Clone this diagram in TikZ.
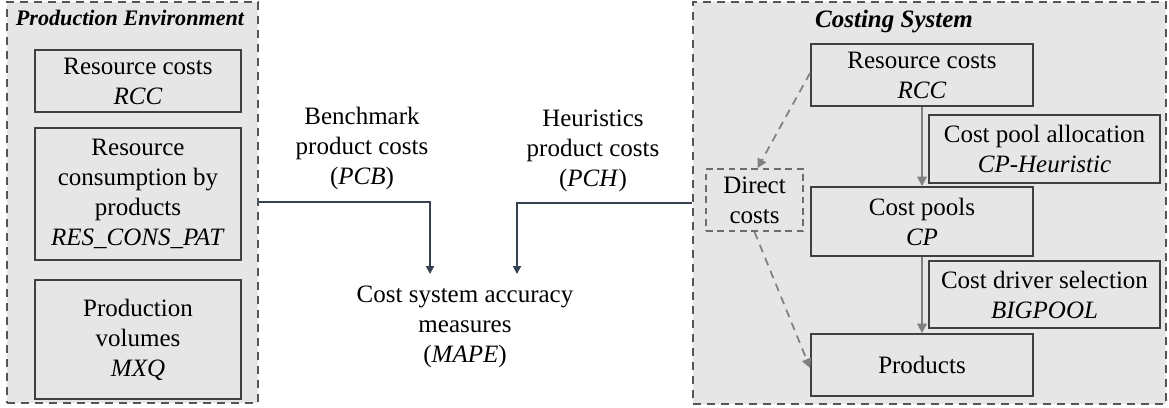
\documentclass[tikz,border=0pt]{standalone}
\usepackage{fontspec}
\setmainfont{LiberationSerif}[Extension=.ttf, UprightFont=*-Regular, BoldFont=*-Bold, ItalicFont=*-Italic, BoldItalicFont=*-BoldItalic]
\usetikzlibrary{arrows.meta}
\definecolor{panelfill}{HTML}{E6E6E6}
\definecolor{boxline}{HTML}{404040}
\definecolor{panelline}{HTML}{555555}
\definecolor{flowgray}{HTML}{808080}
\definecolor{navy}{HTML}{364152}
\begin{document}
\begin{tikzpicture}[x=0.75pt,y=-0.75pt,
  txt/.style={font=\fontsize{18.75pt}{22.5pt}\selectfont, align=center, inner sep=0pt},
  panel/.style={draw=panelline, fill=panelfill, line width=1.4pt, dash pattern=on 6pt off 4.5pt, inner sep=0pt},
  cbox/.style={draw=boxline, fill=panelfill, line width=1.4pt, txt},
  dbox/.style={draw=flowgray!85!black, fill=panelfill, line width=1.3pt, dash pattern=on 5pt off 3.5pt, txt},
  flow/.style={draw=flowgray, line width=1.4pt, -{Triangle[length=7pt,width=7pt]}},
  dflow/.style={draw=flowgray, line width=1.3pt, dash pattern=on 6pt off 4.5pt, -{Triangle[length=7pt,width=7pt]}},
  conn/.style={draw=navy, line width=1.4pt, -{Triangle[length=6pt,width=6pt]}},
]
\useasboundingbox (0,0) rectangle (1169,407);
\fill[white] (0,0) rectangle (1169,407);

% Production environment panel
\node[panel, minimum width=251*0.75pt, minimum height=401*0.75pt] (penv) at (132.5,202.5) {};
\node[txt, font=\fontsize{16.6pt}{20pt}\selectfont\bfseries\itshape] (penvtitle) at (130,18) {Production Environment};
\node[cbox, minimum width=206*0.75pt, minimum height=62*0.75pt] (prcc) at (138,81) {Resource costs\\\textit{RCC}};
\node[cbox, minimum width=206*0.75pt, minimum height=132*0.75pt] (pres) at (138,194) {Resource\\consumption by\\products\\\textit{RES\_CONS\_PAT}};
\node[cbox, minimum width=206*0.75pt, minimum height=119*0.75pt] (pmxq) at (138,339.5) {Production\\volumes\\\textit{MXQ}};

% Costing system panel
\node[panel, minimum width=473*0.75pt, minimum height=402*0.75pt] (csys) at (929.5,203) {};
\node[txt, font=\fontsize{18.75pt}{22.5pt}\selectfont\bfseries\itshape] (csystitle) at (894,22) {Costing System};
\node[cbox, minimum width=222*0.75pt, minimum height=62*0.75pt] (rcc) at (922,75) {Resource costs\\\textit{RCC}};
\node[cbox, minimum width=231*0.75pt, minimum height=68*0.75pt] (cph) at (1044.5,149) {Cost pool allocation\\\textit{CP-Heuristic}};
\node[cbox, minimum width=222*0.75pt, minimum height=69*0.75pt] (cp) at (922,221.5) {Cost pools\\\textit{CP}};
\node[cbox, minimum width=231*0.75pt, minimum height=67*0.75pt] (big) at (1044.5,294.5) {Cost driver selection\\\textit{BIGPOOL}};
\node[cbox, minimum width=222*0.75pt, minimum height=62*0.75pt] (prod) at (922,365) {Products};
\node[dbox, minimum width=97*0.75pt, minimum height=62*0.75pt] (dir) at (754.5,200) {Direct\\costs};

\draw[flow] (rcc.south) -- (cp.north);
\draw[flow] (cp.south) -- (prod.north);
\draw[dflow] ([yshift=2*0.75pt]rcc.west) -- ([xshift=3*0.75pt]dir.north);
\draw[dflow] (dir.south) -- ([yshift=-3*0.75pt]prod.west);

% Comparison of product costs
\node[txt] (pcb) at (362,148) {Benchmark\\product costs\\(\textit{PCB})};
\node[txt] (pch) at (593,151) {Heuristics\\product costs\\(\textit{PCH})};
\node[txt] (acc) at (465,327) {Cost system accuracy\\measures\\(\textit{MAPE})};
\coordinate (accinb) at (430,274);
\coordinate (accinh) at (517,274);
\draw[conn] ([yshift=0.5*0.75pt]penv.east) -| (accinb);
\draw[conn] (csys.west) -| (accinh);
\end{tikzpicture}
\end{document}
